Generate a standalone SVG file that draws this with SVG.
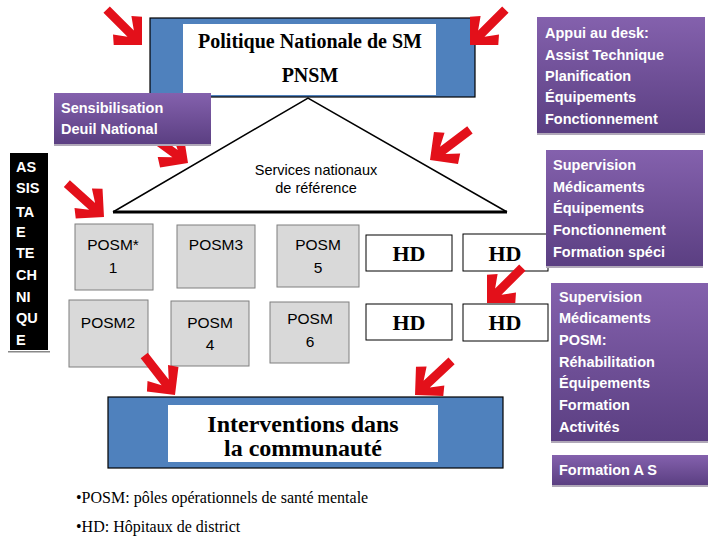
<svg xmlns="http://www.w3.org/2000/svg" width="720" height="540" viewBox="0 0 720 540">
<defs>
<linearGradient id="pg" x1="0" y1="0" x2="0" y2="1">
<stop offset="0" stop-color="#8461ad"/>
<stop offset="1" stop-color="#5b3f82"/>
</linearGradient>
<polygon id="arr" points="0,0 -20,-20 -28,-13 -16,-4.5 -50,-4.5 -50,4.5 -16,4.5 -28,13 -20,20" fill="#e3101a"/>
</defs>
<style>
.blue{fill:#4f81bd;stroke:#000;stroke-width:1.2}
.wht{fill:#fff}
.ptx{font-family:"Liberation Sans",Arial,sans-serif;font-weight:bold;font-size:14.5px;fill:#fff}
.pbox{fill:url(#pg)}
.shd{fill:#b0a8b8}
.posm{fill:#d9d9d9;stroke:#7f7f7f;stroke-width:1}
.ptxt{font-family:"Liberation Sans",Arial,sans-serif;font-size:15.5px;fill:#000;text-anchor:middle}
.hd{fill:#fff;stroke:#000;stroke-width:1}
.hdt{font-family:"Liberation Serif","Times New Roman",serif;font-weight:bold;font-size:22px;text-anchor:middle}
.tb{font-family:"Liberation Serif","Times New Roman",serif;font-weight:bold;text-anchor:middle}
.foot{font-family:"Liberation Serif","Times New Roman",serif;font-size:16px}
</style>
<rect width="720" height="540" fill="#fff"/>

<g id="connectors">
<use href="#arr" transform="translate(188,163) rotate(36)"/>
</g>

<g id="pnsm">
<rect class="blue" x="150" y="18" width="325" height="79"/>
<rect class="wht" x="183" y="24" width="253" height="71"/>
<text class="tb" x="310" y="48" font-size="20">Politique Nationale de SM</text>
<text class="tb" x="310" y="82" font-size="20">PNSM</text>
</g>

<g id="sensibilisation">
<rect class="shd" x="54" y="142" width="157" height="4"/>
<rect class="pbox" x="54" y="93" width="157" height="51"/>
<text class="ptx" x="61" y="113">Sensibilisation</text>
<text class="ptx" x="61" y="134">Deuil National</text>
</g>

<g id="services">
<path d="M113,212 L308,98 L507,212" fill="none" stroke="#000" stroke-width="1.5"/>
<line x1="113" y1="212" x2="507" y2="212" stroke="#000" stroke-width="3"/>
<text x="316" y="175" font-family="Liberation Sans,Arial,sans-serif" font-size="14.5" text-anchor="middle">Services nationaux</text>
<text x="316" y="193" font-family="Liberation Sans,Arial,sans-serif" font-size="14.5" text-anchor="middle">de référence</text>
</g>

<g id="assistance">
<rect x="10" y="153" width="38" height="197" fill="#000"/>
<rect x="8" y="351" width="42" height="1.5" fill="#888"/>
<g class="ptx" font-size="14">
<text x="16" y="172">AS</text>
<text x="16" y="193">SIS</text>
<text x="16" y="217">TA</text>
<text x="16" y="237">E</text>
<text x="16" y="258">TE</text>
<text x="16" y="280">CH</text>
<text x="16" y="302">NI</text>
<text x="16" y="323">QU</text>
<text x="16" y="345">E</text>
</g>
</g>

<g id="posm1"><rect class="posm" x="75" y="224" width="78" height="66"/><text class="ptxt" x="113" y="250">POSM*</text><text class="ptxt" x="113" y="273">1</text></g>
<g id="posm3"><rect class="posm" x="177" y="225" width="78" height="63"/><text class="ptxt" x="216" y="250">POSM3</text></g>
<g id="posm5"><rect class="posm" x="277" y="225" width="82" height="62"/><text class="ptxt" x="318" y="250">POSM</text><text class="ptxt" x="318" y="273">5</text></g>
<g id="posm2"><rect class="posm" x="69" y="300" width="79" height="67"/><text class="ptxt" x="108" y="328">POSM2</text></g>
<g id="posm4"><rect class="posm" x="171" y="301" width="78" height="65"/><text class="ptxt" x="210" y="328">POSM</text><text class="ptxt" x="210" y="350">4</text></g>
<g id="posm6"><rect class="posm" x="270" y="302" width="79" height="61"/><text class="ptxt" x="310" y="324">POSM</text><text class="ptxt" x="310" y="347">6</text></g>

<g id="hd1"><rect class="hd" x="366" y="235" width="86" height="36"/><text class="hdt" x="409" y="261">HD</text></g>
<g id="hd2"><rect class="hd" x="463" y="234" width="85" height="37"/><text class="hdt" x="505" y="261">HD</text></g>
<g id="hd3"><rect class="hd" x="366" y="304" width="86" height="36"/><text class="hdt" x="409" y="330">HD</text></g>
<g id="hd4"><rect class="hd" x="463" y="304" width="85" height="37"/><text class="hdt" x="505" y="330">HD</text></g>

<g id="appui">
<rect class="shd" x="537" y="131" width="168" height="4"/>
<rect class="pbox" x="537" y="17" width="168" height="116"/>
<text class="ptx" x="545" y="38">Appui au desk:</text>
<text class="ptx" x="545" y="60">Assist Technique</text>
<text class="ptx" x="545" y="81">Planification</text>
<text class="ptx" x="545" y="102">Équipements</text>
<text class="ptx" x="545" y="124">Fonctionnement</text>
</g>

<g id="supervision1">
<rect class="shd" x="546" y="264" width="157" height="4"/>
<rect class="pbox" x="546" y="150" width="157" height="116"/>
<text class="ptx" x="553" y="170">Supervision</text>
<text class="ptx" x="553" y="192">Médicaments</text>
<text class="ptx" x="553" y="213">Équipements</text>
<text class="ptx" x="553" y="235">Fonctionnement</text>
<text class="ptx" x="553" y="257">Formation spéci</text>
</g>

<g id="supervision2">
<rect class="shd" x="551" y="439" width="157" height="4"/>
<rect class="pbox" x="551" y="283" width="157" height="158"/>
<text class="ptx" x="559" y="302">Supervision</text>
<text class="ptx" x="559" y="323">Médicaments</text>
<text class="ptx" x="559" y="345">POSM:</text>
<text class="ptx" x="559" y="367">Réhabilitation</text>
<text class="ptx" x="559" y="388">Équipements</text>
<text class="ptx" x="559" y="410">Formation</text>
<text class="ptx" x="559" y="432">Activités</text>
</g>

<g id="formationAS">
<rect class="shd" x="552" y="483" width="156" height="4"/>
<rect class="pbox" x="552" y="455" width="156" height="30"/>
<text class="ptx" x="559" y="475">Formation A S</text>
</g>

<g id="interventions">
<rect class="blue" x="108" y="397" width="395" height="71"/>
<rect class="wht" x="168" y="405" width="270" height="57"/>
<text class="tb" x="303" y="432" font-size="24">Interventions dans</text>
<text class="tb" x="303" y="456" font-size="24">la communauté</text>
</g>

<g id="arrows">
<use href="#arr" transform="translate(142,45) rotate(45)"/>
<use href="#arr" transform="translate(470,45) rotate(135)"/>
<use href="#arr" transform="translate(430,160) rotate(143)"/>
<use href="#arr" transform="translate(104,217) rotate(42)"/>
<use href="#arr" transform="translate(175,395) rotate(52)"/>
<use href="#arr" transform="translate(415,395) rotate(137)"/>
<use href="#arr" transform="translate(487,303) rotate(135)"/>
</g>

<g id="legend">
<text class="foot" x="76" y="503">•POSM: pôles opérationnels de santé mentale</text>
<text class="foot" x="76" y="532">•HD: Hôpitaux de district</text>
</g>
</svg>
